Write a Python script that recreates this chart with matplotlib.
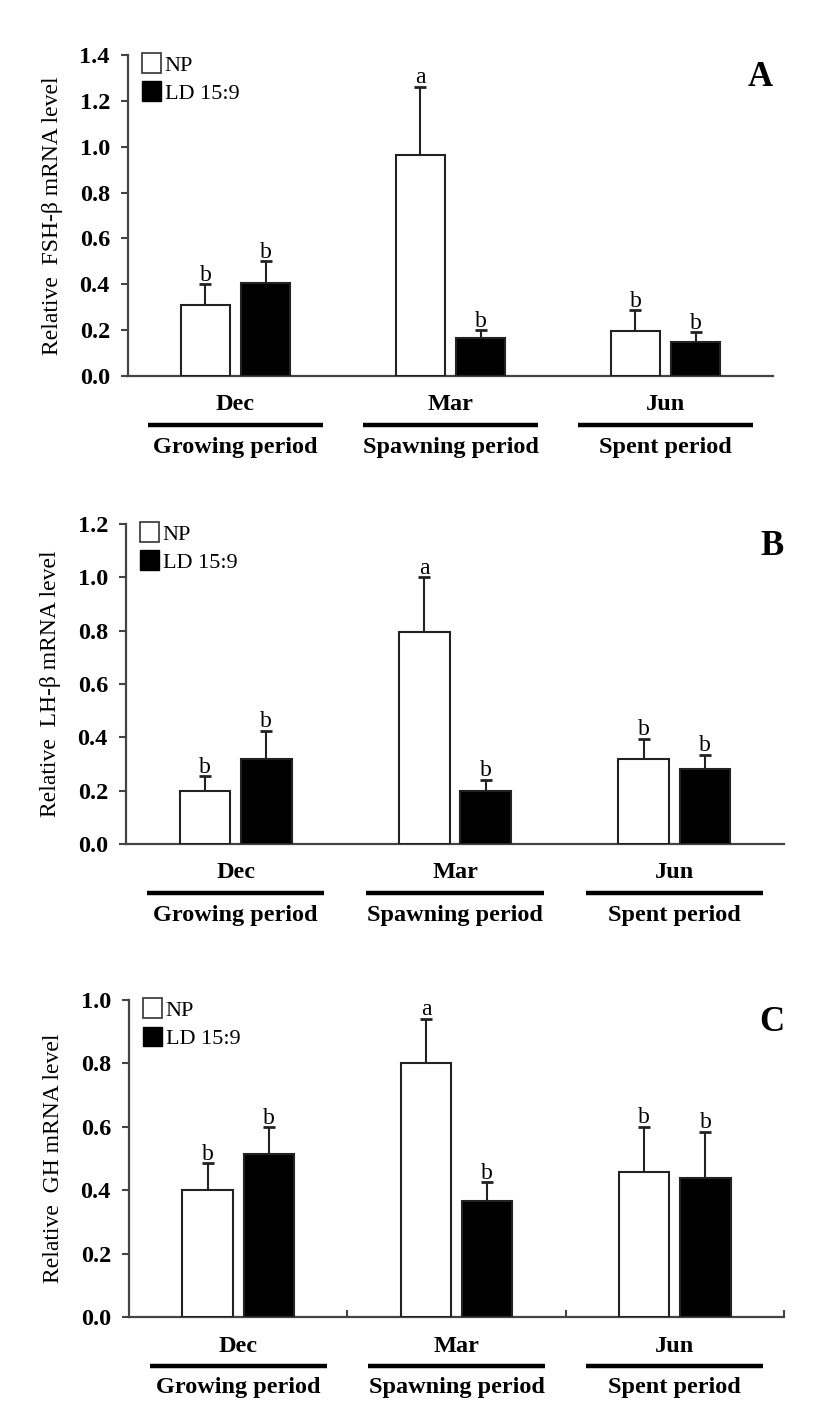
import matplotlib
matplotlib.use("Agg")
import matplotlib.pyplot as plt
import matplotlib.transforms as mtransforms
from matplotlib.patches import Patch
import numpy as np

plt.rcParams['font.family'] = ['Liberation Serif', 'DejaVu Serif']

months = ["Dec", "Mar", "Jun"]
periods = ["Growing period", "Spawning period", "Spent period"]
series_names = ["NP", "LD 15:9"]

fsh_np = [0.31, 0.965, 0.196]
fsh_np_err = [0.09, 0.295, 0.09]
fsh_ld = [0.405, 0.164, 0.148]
fsh_ld_err = [0.095, 0.036, 0.042]
fsh_np_sig = ["b", "a", "b"]
fsh_ld_sig = ["b", "b", "b"]

lh_np = [0.199, 0.795, 0.32]
lh_np_err = [0.055, 0.205, 0.075]
lh_ld = [0.32, 0.20, 0.28]
lh_ld_err = [0.105, 0.04, 0.055]
lh_np_sig = ["b", "a", "b"]
lh_ld_sig = ["b", "b", "b"]

gh_np = [0.40, 0.80, 0.457]
gh_np_err = [0.085, 0.14, 0.143]
gh_ld = [0.513, 0.366, 0.44]
gh_ld_err = [0.085, 0.059, 0.145]
gh_np_sig = ["b", "a", "b"]
gh_ld_sig = ["b", "b", "b"]

W, H = 827, 1410
fig = plt.figure(figsize=(W / 100, H / 100), dpi=100)

panels = [
    dict(rect=(128, 55, 773, 376), ymax=1.4, step=0.2, ylabel="Relative  FSH-\u03b2 mRNA level",
         np_=fsh_np, npe=fsh_np_err, ld=fsh_ld, lde=fsh_ld_err, nps=fsh_np_sig, lds=fsh_ld_sig,
         letter="A", sep_ticks=False),
    dict(rect=(126, 524, 784, 844), ymax=1.2, step=0.2, ylabel="Relative  LH-\u03b2 mRNA level",
         np_=lh_np, npe=lh_np_err, ld=lh_ld, lde=lh_ld_err, nps=lh_np_sig, lds=lh_ld_sig,
         letter="B", sep_ticks=False),
    dict(rect=(129, 1000, 784, 1317), ymax=1.0, step=0.2, ylabel="Relative  GH mRNA level",
         np_=gh_np, npe=gh_np_err, ld=gh_ld, lde=gh_ld_err, nps=gh_np_sig, lds=gh_ld_sig,
         letter="C", sep_ticks=True),
]

axis_col = "#444444"
x = np.arange(len(months))
off = 0.14
bw = 0.23

for p in panels:
    l, t, r, b = p["rect"]
    ax = fig.add_axes([l / W, 1 - b / H, (r - l) / W, (b - t) / H])
    ax.set_xlim(-0.5, 2.5)
    ax.set_ylim(0, p["ymax"])
    ax.bar(x - off, p["np_"], bw, color="white", edgecolor="#222222", linewidth=1.5, zorder=3)
    ax.bar(x + off, p["ld"], bw, color="black", edgecolor="#222222", linewidth=1.5, zorder=3)
    ax.errorbar(x - off, p["np_"], yerr=[np.zeros(3), p["npe"]], fmt="none", ecolor="#222222",
                elinewidth=1.5, capsize=4.5, capthick=2, zorder=2)
    ax.errorbar(x + off, p["ld"], yerr=[np.zeros(3), p["lde"]], fmt="none", ecolor="#222222",
                elinewidth=1.5, capsize=4.5, capthick=2, zorder=2)
    for xi, v, e, s in zip(x - off, p["np_"], p["npe"], p["nps"]):
        ax.annotate(s, (xi, v + e), xytext=(0, -1), textcoords="offset points",
                    ha="center", va="bottom", fontsize=17)
    for xi, v, e, s in zip(x + off, p["ld"], p["lde"], p["lds"]):
        ax.annotate(s, (xi, v + e), xytext=(0, -1), textcoords="offset points",
                    ha="center", va="bottom", fontsize=17)

    for sp in ["top", "right"]:
        ax.spines[sp].set_visible(False)
    for sp in ["left", "bottom"]:
        ax.spines[sp].set_color(axis_col)
        ax.spines[sp].set_linewidth(1.6)
    ticks = np.arange(0, p["ymax"] + 1e-9, p["step"])
    ax.set_yticks(ticks)
    ax.set_yticklabels([f"{v:.1f}" for v in ticks], fontsize=17.5, fontweight="bold")
    ax.tick_params(axis="y", direction="out", length=5, width=1.5, color=axis_col, pad=8)
    if p["sep_ticks"]:
        ax.set_xticks([0.5, 1.5, 2.5])
        ax.tick_params(axis="x", direction="in", length=5, width=1.5, color=axis_col)
        ax.set_xticklabels([])
    else:
        ax.set_xticks([])
    ax.set_ylabel(p["ylabel"], fontsize=17, labelpad=12)

    ax.legend(handles=[Patch(facecolor="white", edgecolor="#333333", linewidth=1.2),
                       Patch(facecolor="black", edgecolor="black")],
              labels=series_names, loc="upper left", bbox_to_anchor=(-0.012, 1.075),
              frameon=False, fontsize=16, handlelength=0.85, handleheight=1.0,
              handletextpad=0.15, labelspacing=0.25, borderaxespad=0.6)

    ax.text(1.0, 0.93, p["letter"], transform=ax.transAxes, ha="right", va="center",
            fontsize=25, fontweight="bold")

    base = ax.get_xaxis_transform()
    for i, (m, per) in enumerate(zip(months, periods)):
        tm = base + mtransforms.ScaledTranslation(0, -29 / 100, fig.dpi_scale_trans)
        ax.text(i, 0, m, transform=tm, ha="center", va="center", fontsize=17.5, fontweight="bold")
        tl = base + mtransforms.ScaledTranslation(0, -49 / 100, fig.dpi_scale_trans)
        ax.plot([i - 0.405, i + 0.405], [0, 0], transform=tl, clip_on=False, color="black",
                linewidth=3.2, solid_capstyle="butt")
        tp = base + mtransforms.ScaledTranslation(0, -71 / 100, fig.dpi_scale_trans)
        ax.text(i, 0, per, transform=tp, ha="center", va="center", fontsize=17.5, fontweight="bold")

fig.savefig("out.png", dpi=100)
